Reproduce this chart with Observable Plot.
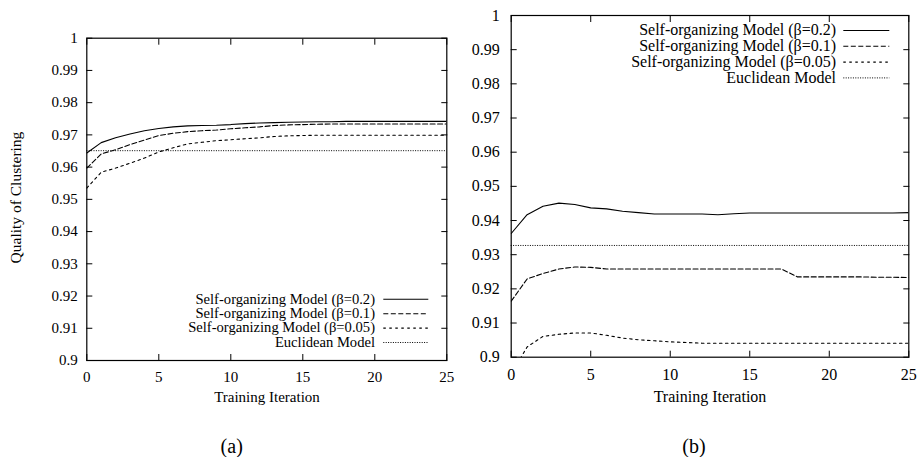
<!DOCTYPE html>
<html><head><meta charset="utf-8">
<script src="https://cdn.jsdelivr.net/npm/d3@7"></script>
<script src="https://cdn.jsdelivr.net/npm/@observablehq/plot@0.6"></script>
<style>
body{margin:0;background:#fff}
#wrap{position:relative;width:920px;height:457px;font-family:"Liberation Serif","Times New Roman",Times,serif;overflow:hidden}
#wrap svg{position:absolute;top:0}
#wrap svg, #wrap svg text{font-family:"Liberation Serif","Times New Roman",Times,serif !important}
</style>
</head><body><div id="wrap"></div>
<script>
// ---- data ----
const iterations = [0,1,2,3,4,5,6,7,8,9,10,11,12,13,14,15,16,17,18,19,20,21,22,23,24,25];
const seriesNames = ["Self-organizing Model (\u03b2=0.2)","Self-organizing Model (\u03b2=0.1)","Self-organizing Model (\u03b2=0.05)","Euclidean Model"];
const yTicks = [0.9,0.91,0.92,0.93,0.94,0.95,0.96,0.97,0.98,0.99,1];
const xTicks = [0,5,10,15,20,25];

// panel (a)
const a_b02  = [0.9644,0.9676,0.9691,0.9703,0.9713,0.9720,0.9725,0.9728,0.9729,0.9730,0.9732,0.9735,0.9737,0.9738,0.9739,0.9740,0.9741,0.9741,0.9742,0.9742,0.9742,0.9742,0.9742,0.9742,0.9742,0.9742];
const a_b01  = [0.9597,0.9641,0.9654,0.9670,0.9684,0.9698,0.9705,0.9710,0.9713,0.9715,0.9719,0.9722,0.9725,0.9729,0.9731,0.9732,0.9733,0.9734,0.9734,0.9734,0.9734,0.9734,0.9734,0.9734,0.9734,0.9734];
const a_b005 = [0.9535,0.9584,0.9597,0.9612,0.9628,0.9647,0.9660,0.9672,0.9677,0.9682,0.9685,0.9688,0.9691,0.9695,0.9697,0.9698,0.9699,0.9699,0.9699,0.9699,0.9699,0.9699,0.9699,0.9699,0.9699,0.9699];
const a_euclid = 0.9651;

// panel (b)
const b_b02  = [0.9362,0.9417,0.9442,0.9451,0.9447,0.9437,0.9434,0.9427,0.9423,0.9419,0.9419,0.9419,0.9419,0.9417,0.9420,0.9422,0.9422,0.9422,0.9422,0.9422,0.9422,0.9422,0.9422,0.9422,0.9422,0.9423];
const b_b01  = [0.9164,0.9229,0.9245,0.9258,0.9264,0.9263,0.9258,0.9258,0.9258,0.9258,0.9258,0.9258,0.9258,0.9258,0.9258,0.9258,0.9258,0.9258,0.9235,0.9235,0.9235,0.9235,0.9235,0.9234,0.9234,0.9233];
const b_b005 = [0.8950,0.9030,0.9061,0.9067,0.9071,0.9071,0.9064,0.9056,0.9051,0.9048,0.9045,0.9043,0.9041,0.9041,0.9041,0.9041,0.9041,0.9041,0.9041,0.9041,0.9041,0.9041,0.9041,0.9041,0.9041,0.9041];
const b_euclid = 0.9327;

// ---- styles ----
const FONT = '"Liberation Serif","Times New Roman",Times,serif';
const dashes = [null, "5,2.5", "2.5,3.5", "1,1.4"];

function panel(cfg) {
  const rows = (vals) => iterations.map((x, i) => ({x, y: vals[i]}));
  const lineOpts = (k) => ({x: "x", y: "y", stroke: "black", strokeWidth: 1.1, strokeDasharray: dashes[k], clip: true});
  const svg = Plot.plot({
    width: 460, height: 420,
    marginLeft: cfg.ml, marginRight: cfg.mr, marginTop: cfg.mt, marginBottom: cfg.mb,
    style: {fontFamily: FONT, fontSize: cfg.fs + "px", background: "transparent", color: "black"},
    x: {domain: [0, 25]},
    y: {domain: [0.9, 1]},
    marks: [
      Plot.ruleY([cfg.euclid], {stroke: "black", strokeWidth: 1, strokeDasharray: dashes[3]}),
      Plot.line(rows(cfg.s[2]), lineOpts(2)),
      Plot.line(rows(cfg.s[1]), lineOpts(1)),
      Plot.line(rows(cfg.s[0]), lineOpts(0)),
      Plot.axisY({ticks: yTicks, anchor: "left", tickSize: 0, tickPadding: cfg.yp, tickFormat: d => String(d), label: null}),
      Plot.axisY({ticks: yTicks, anchor: "left", tickSize: -6, tickFormat: () => "", label: null}),
      Plot.axisY({ticks: yTicks, anchor: "right", tickSize: -6, tickFormat: () => "", label: null}),
      Plot.axisX({ticks: xTicks, anchor: "bottom", tickSize: 0, tickPadding: cfg.xp, tickFormat: d => String(d), label: null}),
      Plot.axisX({ticks: xTicks, anchor: "bottom", tickSize: -6, tickFormat: () => "", label: null}),
      Plot.axisX({ticks: xTicks, anchor: "top", tickSize: -6, tickFormat: () => "", label: null}),
      Plot.frame({stroke: "black", strokeWidth: 1.2})
    ]
  });
  svg.style.left = cfg.left + "px";
  const s = d3.select(svg);
  // x axis title
  s.append("text").attr("x", cfg.xtx).attr("y", cfg.xty).attr("text-anchor", "middle")
    .attr("font-size", cfg.fs).attr("font-family", FONT).attr("fill", "black").text("Training Iteration");
  if (cfg.ylabel) {
    s.append("text").attr("transform", `translate(${cfg.ylabel[0]},${cfg.ylabel[1]}) rotate(-90)`)
      .attr("text-anchor", "middle").attr("font-size", cfg.fs + 0.5).attr("font-family", FONT).attr("fill", "black").text("Quality of Clustering");
  }
  // legend
  const g = s.append("g");
  seriesNames.forEach((name, k) => {
    const yy = cfg.leg.y0 + k * cfg.leg.dy;
    g.append("text").attr("x", cfg.leg.tx).attr("y", yy).attr("dy", "0.3em").attr("text-anchor", "end")
      .attr("font-size", cfg.leg.fs).attr("font-family", FONT).attr("fill", "black").text(name);
    g.append("line").attr("x1", cfg.leg.x1).attr("x2", cfg.leg.x2).attr("y1", yy).attr("y2", yy)
      .attr("stroke", "black").attr("stroke-width", k === 3 ? 1 : 1.1).attr("stroke-dasharray", dashes[k]);
  });
  return svg;
}

const wrap = document.getElementById("wrap");
wrap.appendChild(panel({
  left: 0, ml: 86.3, mr: 13.7, mt: 37.7, mb: 60, fs: 15, yp: 9, xp: 11,
  s: [a_b02, a_b01, a_b005], euclid: a_euclid,
  xtx: 267, xty: 402, ylabel: [20.5, 197.5],
  leg: {y0: 299.3, dy: 14.4, fs: 14.6, tx: 375, x1: 383.3, x2: 428.3}
}));
wrap.appendChild(panel({
  left: 460, ml: 50.7, mr: 11.7, mt: 15, mb: 63.3, fs: 16, yp: 11.5, xp: 11.5,
  s: [b_b02, b_b01, b_b005], euclid: b_euclid,
  xtx: 250, xty: 401.5, ylabel: null,
  leg: {y0: 30.5, dy: 15.8, fs: 16, tx: 376, x1: 383.3, x2: 429.3}
}));

// captions
const cap = d3.select(wrap).append("svg").attr("width", 920).attr("height", 457).style("left", "0px").style("pointer-events", "none");
cap.append("text").attr("x", 231.7).attr("y", 453).attr("text-anchor", "middle").attr("font-size", 20).attr("font-family", FONT).text("(a)");
cap.append("text").attr("x", 694).attr("y", 453).attr("text-anchor", "middle").attr("font-size", 20).attr("font-family", FONT).text("(b)");
</script>
</body></html>
